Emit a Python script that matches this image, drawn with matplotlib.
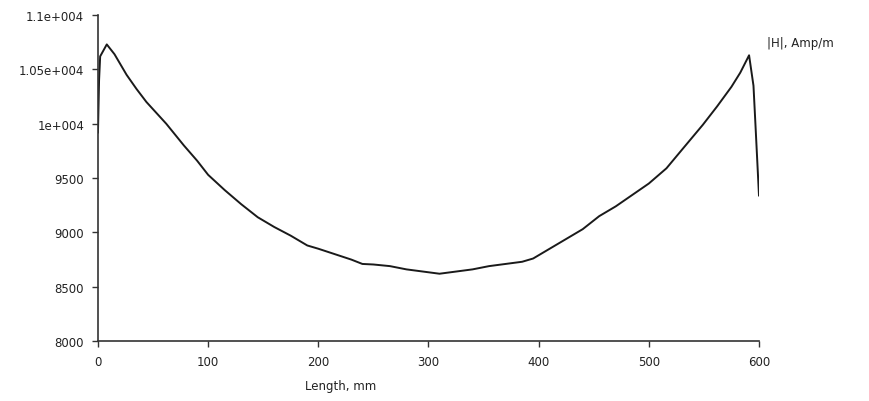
import matplotlib
matplotlib.use("Agg")
import matplotlib.pyplot as plt

# field magnitude along the length
length_mm = [0, 1, 2, 8, 15, 26, 35, 44, 53, 62, 70, 78, 90, 100, 115, 130, 145,
             160, 175, 190, 200, 215, 230, 240, 250, 265, 280, 295, 310, 325,
             340, 355, 370, 385, 395, 410, 425, 440, 455, 470, 480, 500, 516,
             530, 549, 562, 575, 583, 591, 595, 597, 600]
h_field = [9920, 10400, 10620, 10730, 10640, 10450, 10320, 10200, 10100, 10000,
           9900, 9800, 9660, 9530, 9390, 9260, 9140, 9050, 8970, 8880, 8850,
           8800, 8750, 8710, 8705, 8690, 8660, 8640, 8620, 8640, 8660, 8690,
           8710, 8730, 8760, 8850, 8940, 9030, 9150, 9240, 9310, 9450, 9590,
           9760, 9990, 10160, 10340, 10470, 10630, 10350, 9950, 9340]

x_ticks = [0, 100, 200, 300, 400, 500, 600]
y_ticks = [8000, 8500, 9000, 9500, 10000, 10500, 11000]
y_tick_labels = ["8000", "8500", "9000", "9500", "1e+004", "1.05e+004", "1.1e+004"]

fig = plt.figure(figsize=(8.7, 4.02), dpi=100)
ax = fig.add_axes([0.1126, 0.149, 0.7598, 0.811])

ax.plot(length_mm, h_field, color="#1a1a1a", linewidth=1.4)

ax.set_xlim(0, 600)
ax.set_ylim(8000, 11000)
ax.set_xticks(x_ticks)
ax.set_yticks(y_ticks)
ax.set_yticklabels(y_tick_labels)

for s in ["top", "right"]:
    ax.spines[s].set_visible(False)
for s in ["left", "bottom"]:
    ax.spines[s].set_color("#333333")
    ax.spines[s].set_linewidth(1.2)
ax.tick_params(direction="out", length=4, width=1, color="#333333",
               labelsize=8.5, labelcolor="#222222", pad=6)

# axis titles sit loose in the figure, like the original
fig.text(0.391, 0.03, "Length, mm", ha="center", fontsize=8.5, color="#222222")
fig.text(0.92, 0.882, "|H|, Amp/m", ha="center", fontsize=8.5, color="#222222")

fig.savefig("out.png", dpi=100)
